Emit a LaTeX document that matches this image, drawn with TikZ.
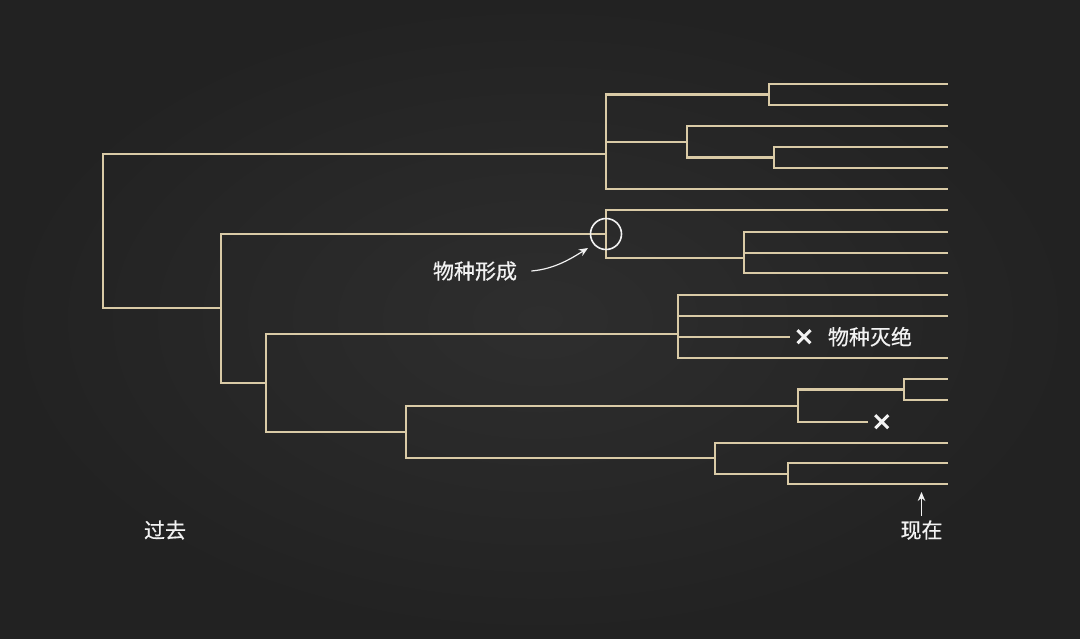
\documentclass[tikz,border=0pt]{standalone}
\usepackage{fontspec}
\newfontfamily\cjk[FakeBold=0.6]{Noto Sans CJK SC}
\usetikzlibrary{shapes.misc,arrows.meta}
\definecolor{board}{HTML}{2E2E2E}
\definecolor{boardEdge}{HTML}{222222}
\definecolor{chalk}{HTML}{D9CAA6}
\definecolor{chalkW}{HTML}{F2F2F2}

\begin{document}
\begin{tikzpicture}[x=0.5pt,y=-0.5pt,>={Stealth[length=4.5pt,width=3.8pt]},
  branch/.style={chalk,line width=1.15pt},
  lbl/.style={text=chalkW,font=\cjk\fontsize{10.5}{12}\selectfont,inner sep=0pt},
  extinct/.style={cross out,draw=chalkW,line width=1.5pt,minimum size=5pt,inner sep=0pt}]
\useasboundingbox (0,0) rectangle (1080,638);
\shade[inner color=board,outer color=boardEdge] (0,0) rectangle (1080,638);
\foreach \y [count=\i from 0] in {84,105,126,147,168,189,210,231.7,252.7,273.3,295,315.7,336.7,357.7,379,400,421.7,442.7,463.3,484.3}
  \coordinate (t\i) at (948,\y);
\coordinate (t12) at (790,336.7);
\coordinate (t16) at (868,421.7);
\coordinate (a) at (769,94.5);
\coordinate (b) at (774,157.5);
\coordinate (c) at (687,141.7);
\coordinate (d) at (606,154);
\coordinate (e) at (744,257.7);
\coordinate (s) at (606,234);
\coordinate (f) at (677.7,334);
\coordinate (g) at (904,389.5);
\coordinate (h) at (797.7,405.7);
\coordinate (n) at (787.7,474);
\coordinate (j) at (715,458.3);
\coordinate (k) at (406,432);
\coordinate (l) at (266,382.7);
\coordinate (m) at (221,308);
\coordinate (r) at (103,231);
\foreach \p/\c in {a/t0,a/t1,b/t3,b/t4,c/t2,c/b,d/a,d/c,d/t5,e/t7,e/t8,e/t9,s/t6,s/e,
  f/t10,f/t11,f/t12,f/t13,g/t14,g/t15,h/g,h/t16,n/t18,n/t19,j/t17,j/n,k/h,k/j,
  l/f,l/k,m/s,m/l,r/d,r/m}
  \draw[branch] (\p) |- (\c);
\node[circle,draw=chalkW,line width=0.8pt,minimum size=15.5pt,inner sep=0pt] (spec) at (s) {};
\node[extinct] (x1) at (804,336.7) {};
\node[extinct] (x2) at (881.7,421.7) {};
\node[lbl] (extLbl) at (870,336.7) {物种灭绝};
\node[lbl] (formLbl) at (475,271) {物种形成};
\coordinate (formTip) at (588,248);
\draw[->,chalkW,line width=0.6pt] ([xshift=7pt]formLbl.east) .. controls (555,269) and (572,258) .. (formTip);
\node[lbl] (pastLbl) at (165,530) {过去};
\node[lbl] (nowLbl) at (921.5,530) {现在};
\coordinate (nowTip) at (921.5,492);
\draw[->,chalkW,line width=0.6pt] ([yshift=2pt]nowLbl.north) -- (nowTip);
\end{tikzpicture}
\end{document}
